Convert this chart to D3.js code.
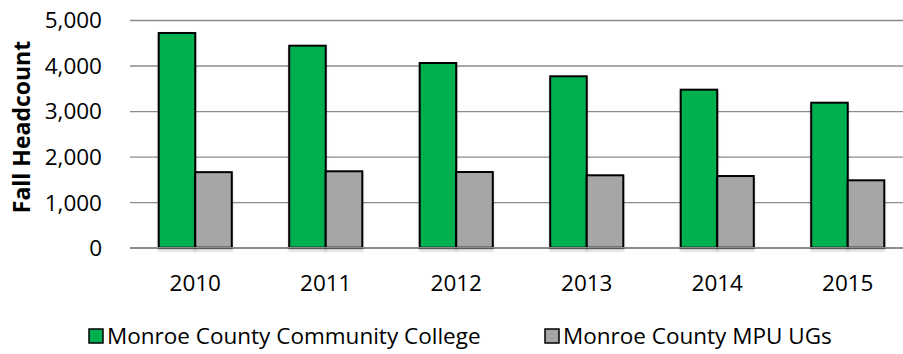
<!DOCTYPE html>
<html>
<head>
<meta charset="utf-8">
<script src="https://cdn.jsdelivr.net/npm/d3@7"></script>
<style>
  html, body { margin: 0; padding: 0; background: #fff; }
  svg { display: block; }
  text { font-family: "Open Sans", sans-serif; fill: #000; }
</style>
</head>
<body>
<div id="chart"></div>
<script>
const years = ["2010", "2011", "2012", "2013", "2014", "2015"];
const seriesNames = ["Monroe County Community College", "Monroe County MPU UGs"];
const collegeValues = [4715, 4436, 4056, 3764, 3470, 3184];
const mpuValues = [1659, 1678, 1662, 1590, 1574, 1480];
const yTicks = [0, 1000, 2000, 3000, 4000, 5000];
const colors = ["#00B050", "#A6A6A6"];

const W = 903, H = 354;
const svg = d3.select("#chart").append("svg").attr("width", W).attr("height", H);

const defs = svg.append("defs");
const f = defs.append("filter").attr("id", "shadow").attr("x", "-20%").attr("y", "-20%").attr("width", "140%").attr("height", "140%");
f.append("feDropShadow").attr("dx", 0).attr("dy", 2.5).attr("stdDeviation", 1.2).attr("flood-color", "#000").attr("flood-opacity", 0.18);

const plotLeft = 130, plotRight = 913, plotTop = 20, plotBottom = 247.7;

const x = d3.scaleBand().domain(years).range([plotLeft, plotRight]).paddingInner(0.44).paddingOuter(0.22);
const xs = d3.scaleBand().domain([0, 1]).range([0, x.bandwidth()]);
const y = d3.scaleLinear().domain([0, 5000]).range([plotBottom, plotTop]);

// gridlines
const grid = d3.axisLeft(y).tickValues(yTicks).tickSize(-(W - plotLeft)).tickFormat("");
svg.append("g").attr("transform", `translate(${plotLeft},0)`).call(grid)
  .call(g => g.select(".domain").remove())
  .call(g => g.selectAll("line").attr("stroke", "#8c8c8c").attr("stroke-width", 1.4));

// y tick labels
const yAxis = d3.axisLeft(y).tickValues(yTicks).tickSize(0).tickPadding(0).tickFormat(d3.format(","));
svg.append("g").attr("transform", `translate(102,0)`).call(yAxis)
  .call(g => g.select(".domain").remove())
  .call(g => g.selectAll("text").attr("font-size", "22.5px").attr("font-family", "Open Sans, sans-serif").attr("dy", "0.35em").attr("x", 0));

// bars
const data = years.map((yr, i) => ({ yr, vals: [collegeValues[i], mpuValues[i]] }));
const groups = svg.append("g").selectAll("g").data(data).join("g")
  .attr("transform", d => `translate(${x(d.yr)},0)`);
groups.selectAll("rect").data(d => d.vals.map((v, k) => ({ v, k }))).join("rect")
  .attr("x", d => xs(d.k))
  .attr("y", d => y(d.v))
  .attr("width", xs.bandwidth())
  .attr("height", d => y(0) - y(d.v))
  .attr("fill", d => colors[d.k])
  .attr("stroke", "#000")
  .attr("stroke-width", 2)
  .attr("filter", "url(#shadow)");

// baseline
svg.append("line").attr("x1", plotLeft).attr("x2", W).attr("y1", y(0)).attr("y2", y(0))
  .attr("stroke", "#8c8c8c").attr("stroke-width", 1.6);

// x labels
const xAxis = d3.axisBottom(x).tickSize(0).tickPadding(0);
svg.append("g").attr("transform", `translate(0,283)`).call(xAxis)
  .call(g => g.select(".domain").remove())
  .call(g => g.selectAll("text").attr("font-size", "22.5px").attr("font-family", "Open Sans, sans-serif").attr("dy", "0.35em").attr("y", 0));

// y title
svg.append("text")
  .attr("transform", "translate(30,127) rotate(-90)")
  .attr("text-anchor", "middle")
  .attr("font-family", "Liberation Sans, Arial, sans-serif")
  .attr("font-weight", "bold")
  .attr("font-size", "23px")
  .text("Fall Headcount");

// legend
const legendItems = [{ name: seriesNames[0], color: colors[0], x: 89 }, { name: seriesNames[1], color: colors[1], x: 545 }];
const lg = svg.append("g").selectAll("g").data(legendItems).join("g")
  .attr("transform", d => `translate(${d.x},336)`);
lg.append("rect").attr("x", 0).attr("y", -7).attr("width", 14).attr("height", 14)
  .attr("fill", d => d.color).attr("stroke", "#000").attr("stroke-width", 1.5);
lg.append("text").attr("x", 18).attr("dy", "0.35em").attr("font-size", "22.5px").text(d => d.name);
</script>
</body>
</html>
